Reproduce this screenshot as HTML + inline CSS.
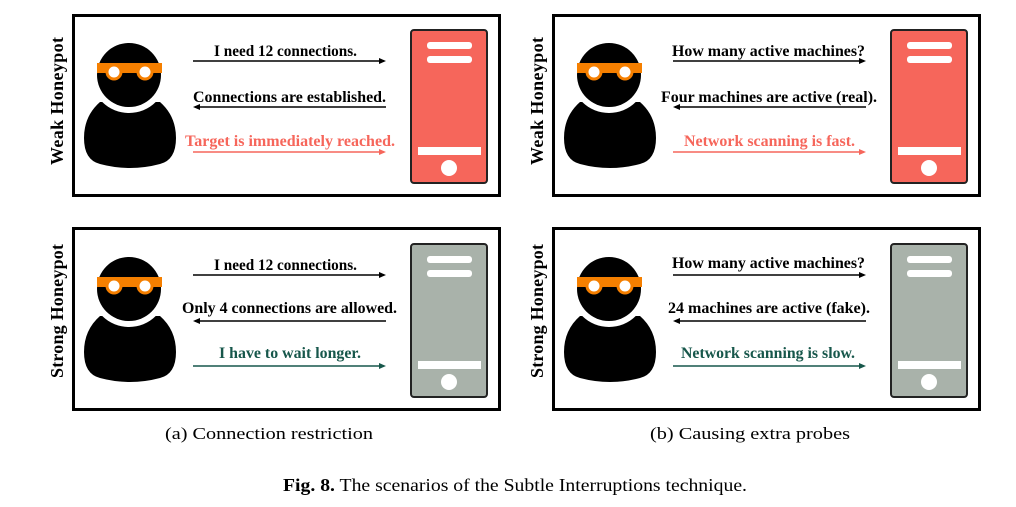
<!DOCTYPE html>
<html><head><meta charset="utf-8"><style>
html,body{margin:0;padding:0;background:#fff;}
svg{display:block}
.t{font-family:"Liberation Serif",serif;font-weight:bold;font-size:16px;text-anchor:middle}
.v{font-family:"Liberation Serif",serif;font-weight:bold;font-size:18px;text-anchor:middle}
</style></head><body>
<svg width="1016" height="507" viewBox="0 0 1016 507" xmlns="http://www.w3.org/2000/svg">
<defs>
<g id="person">
<path d="M100,102 Q84,116 84,138 Q84,160 100,164 Q130,172 160,164 Q176,160 176,138 Q176,116 160,102 Z" fill="#000"/>
<circle cx="129" cy="75" r="38" fill="#fff"/>
<circle cx="129" cy="75" r="32" fill="#000"/>
<rect x="97" y="63" width="65" height="10" fill="#f57f00"/>
<circle cx="114" cy="72" r="8.5" fill="#f57f00"/>
<circle cx="145" cy="72" r="8.5" fill="#f57f00"/>
<circle cx="114" cy="72" r="5.5" fill="#fff"/>
<circle cx="145" cy="72" r="5.5" fill="#fff"/>
</g>
<g id="bars">
<rect x="427" y="42" width="45" height="7" rx="3" fill="#fff"/>
<rect x="427" y="56" width="45" height="7" rx="3" fill="#fff"/>
<rect x="418" y="147" width="63" height="8" fill="#fff"/>
<circle cx="449" cy="168" r="8" fill="#fff"/>
</g>
</defs>

<!-- Panel a top -->
<g>
<rect x="73.5" y="15.5" width="426" height="180" fill="#fff" stroke="#000" stroke-width="3"/>
<text class="v" transform="translate(63,101) rotate(-90)" textLength="128" lengthAdjust="spacing">Weak Honeypot</text>
<use href="#person"/>
<rect x="411" y="30" width="76" height="153" rx="3" fill="#f6665b" stroke="#222" stroke-width="2"/>
<use href="#bars"/>
<text class="t" x="285.5" y="56" fill="#000" textLength="143" lengthAdjust="spacingAndGlyphs">I need 12 connections.</text>
<line x1="193" y1="61" x2="384" y2="61" stroke="#000" stroke-width="1.5"/><path d="M386,61 l-7,-3 v6z" fill="#000"/>
<text class="t" x="289.5" y="102" fill="#000" textLength="193" lengthAdjust="spacingAndGlyphs">Connections are established.</text>
<line x1="195" y1="107" x2="386" y2="107" stroke="#000" stroke-width="1.5"/><path d="M193,107 l7,-3 v6z" fill="#000"/>
<text class="t" x="290" y="146" fill="#f6665b" textLength="210" lengthAdjust="spacingAndGlyphs">Target is immediately reached.</text>
<line x1="193" y1="152" x2="384" y2="152" stroke="#f6665b" stroke-width="1.5"/><path d="M386,152 l-7,-3 v6z" fill="#f6665b"/>
</g>

<!-- Panel b top -->
<g transform="translate(480,0)">
<rect x="73.5" y="15.5" width="426" height="180" fill="#fff" stroke="#000" stroke-width="3"/>
<text class="v" transform="translate(63,101) rotate(-90)" textLength="128" lengthAdjust="spacing">Weak Honeypot</text>
<use href="#person"/>
<rect x="411" y="30" width="76" height="153" rx="3" fill="#f6665b" stroke="#222" stroke-width="2"/>
<use href="#bars"/>
<text class="t" x="288.5" y="56" fill="#000" textLength="193" lengthAdjust="spacingAndGlyphs">How many active machines?</text>
<line x1="193" y1="61" x2="384" y2="61" stroke="#000" stroke-width="1.5"/><path d="M386,61 l-7,-3 v6z" fill="#000"/>
<text class="t" x="289" y="102" fill="#000" textLength="216" lengthAdjust="spacingAndGlyphs">Four machines are active (real).</text>
<line x1="195" y1="107" x2="386" y2="107" stroke="#000" stroke-width="1.5"/><path d="M193,107 l7,-3 v6z" fill="#000"/>
<text class="t" x="289.5" y="146" fill="#f6665b" textLength="171" lengthAdjust="spacingAndGlyphs">Network scanning is fast.</text>
<line x1="193" y1="152" x2="384" y2="152" stroke="#f6665b" stroke-width="1.5"/><path d="M386,152 l-7,-3 v6z" fill="#f6665b"/>
</g>

<!-- Panel a bottom -->
<g transform="translate(0,214)">
<rect x="73.5" y="14.5" width="426" height="181" fill="#fff" stroke="#000" stroke-width="3"/>
<text class="v" transform="translate(63,97) rotate(-90)" textLength="134" lengthAdjust="spacing">Strong Honeypot</text>
<use href="#person"/>
<rect x="411" y="30" width="76" height="153" rx="3" fill="#a9b2aa" stroke="#222" stroke-width="2"/>
<use href="#bars"/>
<text class="t" x="285.5" y="56" fill="#000" textLength="143" lengthAdjust="spacingAndGlyphs">I need 12 connections.</text>
<line x1="193" y1="61" x2="384" y2="61" stroke="#000" stroke-width="1.5"/><path d="M386,61 l-7,-3 v6z" fill="#000"/>
<text class="t" x="289.5" y="99" fill="#000" textLength="215" lengthAdjust="spacingAndGlyphs">Only 4 connections are allowed.</text>
<line x1="195" y1="107" x2="386" y2="107" stroke="#000" stroke-width="1.5"/><path d="M193,107 l7,-3 v6z" fill="#000"/>
<text class="t" x="290" y="144" fill="#17574b" textLength="142" lengthAdjust="spacingAndGlyphs">I have to wait longer.</text>
<line x1="193" y1="152" x2="384" y2="152" stroke="#17574b" stroke-width="1.5"/><path d="M386,152 l-7,-3 v6z" fill="#17574b"/>
</g>

<!-- Panel b bottom -->
<g transform="translate(480,214)">
<rect x="73.5" y="14.5" width="426" height="181" fill="#fff" stroke="#000" stroke-width="3"/>
<text class="v" transform="translate(63,97) rotate(-90)" textLength="134" lengthAdjust="spacing">Strong Honeypot</text>
<use href="#person"/>
<rect x="411" y="30" width="76" height="153" rx="3" fill="#a9b2aa" stroke="#222" stroke-width="2"/>
<use href="#bars"/>
<text class="t" x="288.5" y="54" fill="#000" textLength="193" lengthAdjust="spacingAndGlyphs">How many active machines?</text>
<line x1="193" y1="61" x2="384" y2="61" stroke="#000" stroke-width="1.5"/><path d="M386,61 l-7,-3 v6z" fill="#000"/>
<text class="t" x="289" y="99" fill="#000" textLength="202" lengthAdjust="spacingAndGlyphs">24 machines are active (fake).</text>
<line x1="195" y1="107" x2="386" y2="107" stroke="#000" stroke-width="1.5"/><path d="M193,107 l7,-3 v6z" fill="#000"/>
<text class="t" x="288" y="144" fill="#17574b" textLength="174" lengthAdjust="spacingAndGlyphs">Network scanning is slow.</text>
<line x1="193" y1="152" x2="384" y2="152" stroke="#17574b" stroke-width="1.5"/><path d="M386,152 l-7,-3 v6z" fill="#17574b"/>
</g>

<text x="269" y="439" font-family="Liberation Serif,serif" font-size="17" text-anchor="middle" textLength="208" lengthAdjust="spacingAndGlyphs">(a) Connection restriction</text>
<text x="750" y="439" font-family="Liberation Serif,serif" font-size="17" text-anchor="middle" textLength="200" lengthAdjust="spacingAndGlyphs">(b) Causing extra probes</text>
<text x="515" y="491" font-family="Liberation Serif,serif" font-size="18" text-anchor="middle" textLength="464" lengthAdjust="spacingAndGlyphs"><tspan font-weight="bold">Fig. 8.</tspan> The scenarios of the Subtle Interruptions technique.</text>
</svg>
</body></html>
